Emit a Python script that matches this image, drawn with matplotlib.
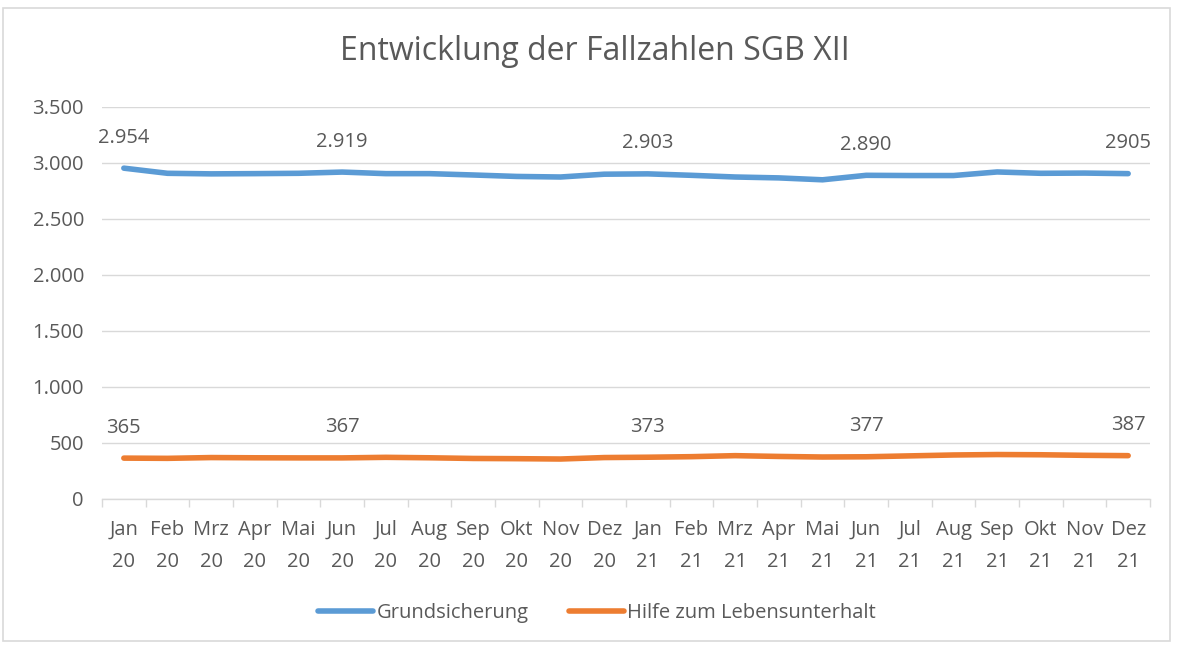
import matplotlib
matplotlib.use("Agg")
import matplotlib.pyplot as plt
from matplotlib.patches import Rectangle
from matplotlib.ticker import FuncFormatter, FixedLocator

months = ["Jan\n20", "Feb\n20", "Mrz\n20", "Apr\n20", "Mai\n20", "Jun\n20", "Jul\n20", "Aug\n20",
          "Sep\n20", "Okt\n20", "Nov\n20", "Dez\n20", "Jan\n21", "Feb\n21", "Mrz\n21", "Apr\n21",
          "Mai\n21", "Jun\n21", "Jul\n21", "Aug\n21", "Sep\n21", "Okt\n21", "Nov\n21", "Dez\n21"]
grundsicherung = [2954, 2908, 2903, 2905, 2908, 2919, 2905, 2905, 2893, 2880, 2875, 2900,
                  2903, 2890, 2875, 2867, 2850, 2890, 2888, 2888, 2920, 2908, 2910, 2905]
hilfe = [365, 363, 370, 368, 367, 367, 372, 368, 362, 360, 357, 370,
         373, 378, 387, 380, 375, 377, 385, 393, 397, 395, 390, 387]
label_idx = [0, 5, 12, 17, 23]
blue_labels = ["2.954", "2.919", "2.903", "2.890", "2905"]
orange_labels = ["365", "367", "373", "377", "387"]
yticks = [0, 500, 1000, 1500, 2000, 2500, 3000, 3500]

plt.rcParams['font.family'] = ['Open Sans', 'DejaVu Sans']
txt = '#595959'
fs = 14.5
fig = plt.figure(figsize=(11.77, 6.46), dpi=100)
fig.patches.append(Rectangle((3/1177, 5/646), 1167/1177, 633/646, transform=fig.transFigure,
                             fill=False, edgecolor='#D9D9D9', linewidth=1.2))
ax = fig.add_axes([102/1177, 1-499/646, 1048/1177, 392/646])

x = list(range(len(months)))
ax.plot(x, grundsicherung, color='#5B9BD5', lw=4, solid_capstyle='round', label='Grundsicherung')
ax.plot(x, hilfe, color='#ED7D31', lw=4, solid_capstyle='round', label='Hilfe zum Lebensunterhalt')

for i, lb in zip(label_idx, blue_labels):
    ax.annotate(lb, (i, grundsicherung[i]), xytext=(0, 22), textcoords='offset points',
                ha='center', va='center', fontsize=fs, color=txt)
for i, lb in zip(label_idx, orange_labels):
    ax.annotate(lb, (i, hilfe[i]), xytext=(0, 22), textcoords='offset points',
                ha='center', va='center', fontsize=fs, color=txt)

ax.set_xlim(-0.5, len(months) - 0.5)
ax.set_ylim(0, 3500)
ax.set_yticks(yticks)
ax.yaxis.set_major_formatter(FuncFormatter(lambda v, p: f"{int(v):,}".replace(",", ".")))
ax.grid(axis='y', color='#D9D9D9', lw=1)
ax.set_axisbelow(True)
for s in ['top', 'right', 'left']:
    ax.spines[s].set_visible(False)
ax.spines['bottom'].set_color('#D9D9D9')
ax.spines['bottom'].set_linewidth(1)

ax.set_xticks(x)
ax.set_xticklabels(months, linespacing=1.8)
ax.tick_params(axis='x', which='major', length=0, pad=15, labelsize=fs, labelcolor=txt)
ax.xaxis.set_minor_locator(FixedLocator([i - 0.5 for i in range(len(months) + 1)]))
ax.tick_params(axis='x', which='minor', length=6, color='#D9D9D9', width=1)
ax.tick_params(axis='y', length=0, pad=13, labelsize=fs, labelcolor=txt)

fig.text(595/1177, 1-52/646, "Entwicklung der Fallzahlen SGB XII", ha='center', va='center',
         fontsize=23, color=txt)
leg = fig.legend(loc='center', bbox_to_anchor=(597/1177, 1-613/646), ncol=2, frameon=False,
                 fontsize=fs, handlelength=2.75, columnspacing=2.0, handletextpad=0.15)
for t in leg.get_texts():
    t.set_color(txt)

fig.savefig("out.png", dpi=100)
